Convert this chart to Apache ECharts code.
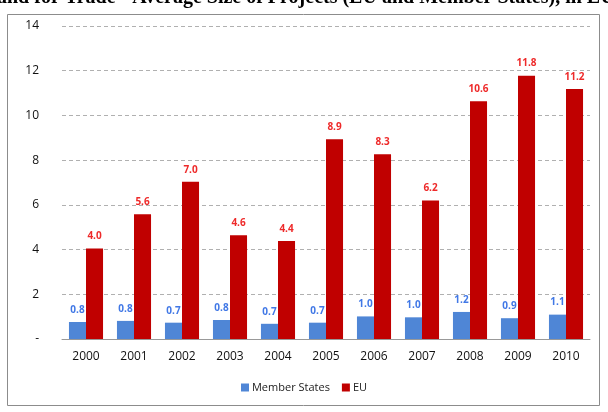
<!DOCTYPE html>
<html>
<head>
<meta charset="utf-8">
<script src="https://cdn.jsdelivr.net/npm/echarts@6/dist/echarts.min.js"></script>
<style>
  html, body { margin: 0; padding: 0; background: #fff; }
  #main { width: 608px; height: 412px; }
</style>
</head>
<body>
<div id="main"></div>
<script>
// data
var years = ['2000', '2001', '2002', '2003', '2004', '2005', '2006', '2007', '2008', '2009', '2010'];
var memberStates = [0.76, 0.81, 0.73, 0.85, 0.68, 0.73, 1.01, 0.97, 1.21, 0.93, 1.09];
var eu = [4.05, 5.58, 7.03, 4.64, 4.38, 8.93, 8.26, 6.2, 10.63, 11.78, 11.18];
var seriesNames = ['Member States', 'EU'];
var titleText = 'and for Trade - Average Size of Projects (EU and Member States), in EUR million';

var chart = echarts.init(document.getElementById('main'));

var labelFont = '"Open Sans", "Noto Sans", sans-serif';

var option = {
  animation: false,
  backgroundColor: '#fff',
  graphic: [
    {
      type: 'rect',
      shape: { x: 7.5, y: 14.5, width: 592, height: 391 },
      style: { fill: 'none', stroke: '#8c8c8c', lineWidth: 1 },
      z: 0
    },
    {
      type: 'text',
      left: -3,
      top: -12,
      style: {
        text: titleText,
        font: 'bold 20px "Liberation Serif", "DejaVu Serif", serif',
        fill: '#000'
      }
    }
  ],
  grid: { left: 62, right: 18, top: 26, bottom: 73 },
  legend: {
    bottom: 14,
    left: 'center',
    itemWidth: 8,
    itemHeight: 8,
    itemGap: 12,
    icon: 'rect',
    textStyle: { fontFamily: labelFont, fontSize: 11, color: '#222', padding: [0, 0, 0, -2] },
    data: seriesNames
  },
  xAxis: {
    type: 'category',
    data: years,
    axisLine: { lineStyle: { color: '#999' } },
    axisTick: { show: false },
    axisLabel: { fontFamily: labelFont, fontSize: 12, color: '#111', margin: 12 }
  },
  yAxis: {
    type: 'value',
    min: 0,
    max: 14,
    interval: 2,
    axisLine: { show: false },
    axisTick: { show: false },
    splitLine: { lineStyle: { color: '#b0b0b0', type: [4, 3] } },
    axisLabel: {
      fontFamily: labelFont,
      fontSize: 12,
      color: '#111',
      margin: 23,
      formatter: function (v) { return v === 0 ? '-' : v; }
    }
  },
  series: [
    {
      name: seriesNames[0],
      type: 'bar',
      data: memberStates,
      barGap: 0,
      barCategoryGap: '29%',
      itemStyle: { color: '#4f86d6' },
      label: {
        show: true,
        position: 'top',
        distance: 7,
        fontFamily: labelFont,
        fontSize: 10,
        fontWeight: 'bold',
        color: '#4178e6',
        formatter: function (p) { return p.value.toFixed(1); }
      }
    },
    {
      name: seriesNames[1],
      type: 'bar',
      data: eu,
      itemStyle: { color: '#c00000' },
      label: {
        show: true,
        position: 'top',
        distance: 7,
        fontFamily: labelFont,
        fontSize: 10,
        fontWeight: 'bold',
        color: '#ee2a2a',
        formatter: function (p) { return p.value.toFixed(1); }
      }
    }
  ]
};

chart.setOption(option);
</script>
</body>
</html>
